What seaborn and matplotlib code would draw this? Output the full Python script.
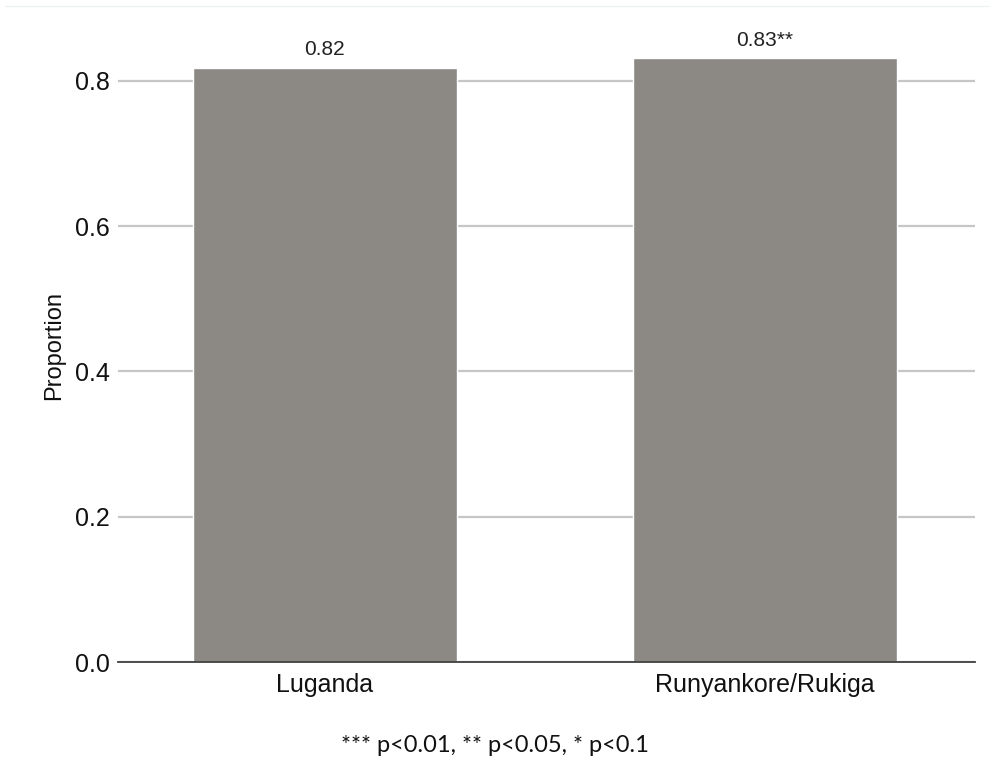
import numpy as np
import pandas as pd
import matplotlib
matplotlib.use("Agg")
import matplotlib.pyplot as plt
import seaborn as sns
from matplotlib.lines import Line2D

languages = ["Luganda", "Runyankore/Rukiga"]
proportions = [0.818, 0.831]
bar_labels = ["0.82", "0.83**"]
footnote = "*** p<0.01, ** p<0.05, * p<0.1"

df = pd.DataFrame({"language": languages, "proportion": proportions})

sns.set_style("white")
plt.rcParams["font.family"] = ["Liberation Sans", "DejaVu Sans"]

fig = plt.figure(figsize=(9.9, 7.7), dpi=100)
ax = fig.add_axes([118 / 990, 1 - 662 / 770, (975 - 118) / 990, (662 - 30) / 770])

ax.yaxis.grid(True, color="#c6c6c6", linewidth=1.6, zorder=0)
ax.set_axisbelow(True)
sns.barplot(data=df, x="language", y="proportion", color="#8c8984",
            width=0.6, saturation=1, ax=ax, zorder=2)

for i, (v, lab) in enumerate(zip(proportions, bar_labels)):
    ax.text(i, v + 0.012, lab, ha="center", va="bottom", fontsize=15, color="#222222")

ax.set_xlim(-0.47, 1.477)
ax.set_ylim(0, 0.87)
ax.set_yticks([0.0, 0.2, 0.4, 0.6, 0.8])
ax.set_yticklabels(["0.0", "0.2", "0.4", "0.6", "0.8"])
ax.tick_params(axis="y", labelsize=18, length=0, pad=6, colors="#111111")
ax.tick_params(axis="x", labelsize=18, length=0, pad=8, colors="#111111")
ax.set_xlabel("")
ax.set_ylabel("Proportion", fontsize=17, labelpad=7, color="#111111")

for s in ["top", "right", "left"]:
    ax.spines[s].set_visible(False)
ax.spines["bottom"].set_color("#404040")
ax.spines["bottom"].set_linewidth(1.3)
ax.spines["bottom"].set_zorder(3)

fig.text(0.5, 1 - 745 / 770, footnote, ha="center", va="center",
         fontsize=17, family=["Lato", "DejaVu Sans"], color="#111111")

fig.add_artist(Line2D([5 / 990, 1], [1 - 6 / 770, 1 - 6 / 770], color="#eef2f2", linewidth=1))

fig.savefig("out.png", dpi=100, facecolor="white")
